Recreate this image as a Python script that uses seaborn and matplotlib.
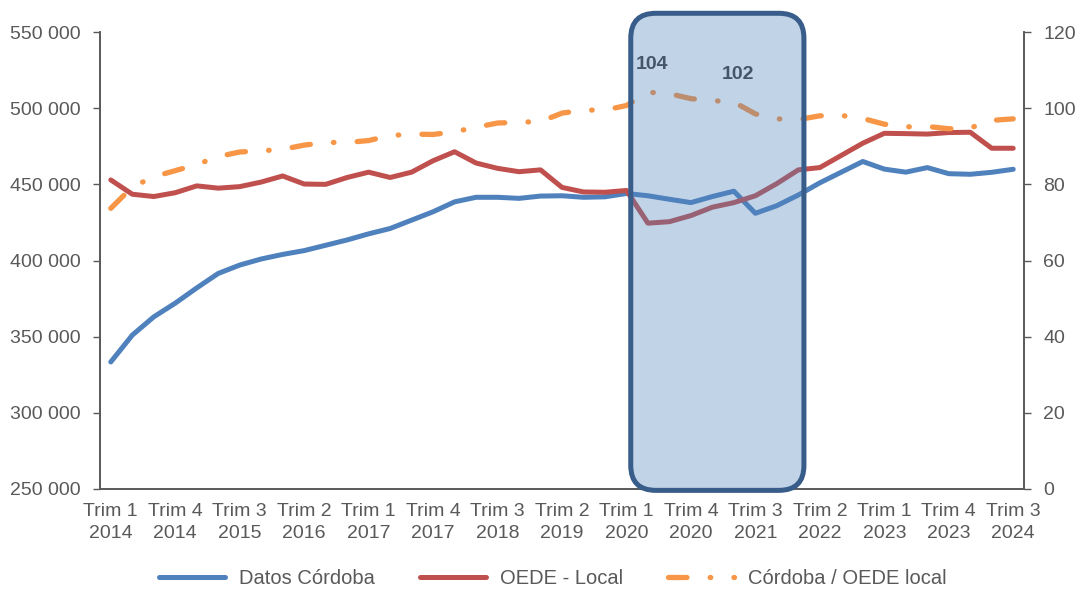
import pandas as pd
import matplotlib.pyplot as plt
import seaborn as sns
from matplotlib.patches import FancyBboxPatch
from matplotlib.ticker import FuncFormatter, FixedLocator

# Colors (Excel-like palette)
BLUE = "#4F81BD"
RED = "#C0504D"
ORANGE = "#F79646"
BOX_EDGE = "#385D8A"
TEXT_GRAY = "#595959"
LABEL_DARK = "#44546A"

sns.set_theme(style="white")
plt.rcParams["font.family"] = ["Liberation Sans", "DejaVu Sans"]

# ----------------------------------------------------------------------
# DATA
# ----------------------------------------------------------------------
quarters = ["Trim 1", "Trim 2", "Trim 3", "Trim 4"]
years = list(range(2014, 2025))
periods = [f"{q}\n{y}" for y in years for q in quarters][:43]  # Trim 1 2014 .. Trim 3 2024

datos_cordoba = [
    333400, 351000, 363000, 372000, 382000, 391500, 397000, 401000, 404000, 406500,
    410000, 413500, 417500, 421000, 426500, 432000, 438500, 441500, 441500, 440800,
    442300, 442500, 441500, 441800, 444000, 442500, 440200, 438000, 442000, 445500,
    431000, 436000, 443000, 451000, 458000, 465000, 460000, 458000, 461000, 457000,
    456600, 457900, 459900,
]
oede_local = [
    452900, 443500, 442000, 444500, 449000, 447500, 448500, 451500, 455500, 450200,
    450000, 454500, 458000, 454500, 458000, 465500, 471400, 464000, 460500, 458300,
    459500, 448000, 445000, 444800, 446000, 424500, 425500, 429500, 435000, 438000,
    442500, 450500, 459500, 461000, 469000, 477000, 483500, 483300, 483000, 484000,
    484200, 473700, 473700,
]
ratio = [
    73.7, 79.3, 82.0, 83.6, 85.2, 87.3, 88.5, 88.8, 89.2, 90.3,
    91.0, 91.0, 91.5, 92.8, 93.2, 93.1, 93.8, 95.0, 96.1, 96.3,
    96.5, 98.7, 99.5, 99.5, 100.7, 104.2, 103.8, 102.5, 102.0, 101.6,
    98.5, 97.2, 97.0, 98.0, 98.1, 97.3, 95.8, 95.1, 95.2, 94.6,
    94.8, 96.8, 97.2,
]

# highlighted points on the ratio series
highlight_idx = [25, 29]
highlight_text = ["104", "102"]

# highlighted period box (category index / left-axis units)
box_x = (24.2, 32.26)
box_y = (249100, 562300)

df = pd.DataFrame(
    {
        "idx": range(len(periods)),
        "periodo": periods,
        "cordoba": datos_cordoba,
        "oede": oede_local,
        "ratio": ratio,
    }
)

# ----------------------------------------------------------------------
# PLOT
# ----------------------------------------------------------------------
fig = plt.figure(figsize=(10.84, 5.93), dpi=100)
ax = fig.add_axes([0.0923, 0.1754, 0.8523, 0.7706])
ax2 = ax.twinx()

sns.lineplot(data=df, x="idx", y="cordoba", ax=ax, color=BLUE, linewidth=3.6,
             label="Datos Córdoba", solid_joinstyle="round", solid_capstyle="round")
sns.lineplot(data=df, x="idx", y="oede", ax=ax, color=RED, linewidth=3.6,
             label="OEDE - Local", solid_joinstyle="round", solid_capstyle="round")
sns.lineplot(data=df, x="idx", y="ratio", ax=ax2, color=ORANGE, linewidth=3.8,
             label="Córdoba / OEDE local")
ratio_line = ax2.lines[-1]
ratio_line.set_dashes((3.5, 4.4, 0.1, 4.4))
ratio_line.set_dash_capstyle("round")

for i, txt in zip(highlight_idx, highlight_text):
    ax2.annotate(txt, xy=(df["idx"][i], df["ratio"][i]), xytext=(3, 14),
                 textcoords="offset points", ha="center", va="bottom",
                 fontsize=14, fontweight="bold", color=LABEL_DARK, zorder=20)

# axes limits
ax.set_xlim(-0.5, len(periods) - 0.5)
ax.set_ylim(250000, 550000)
ax2.set_ylim(0, 120)
ax.set_yticks(range(250000, 550001, 50000))
ax2.set_yticks(range(0, 121, 20))
ax.yaxis.set_major_formatter(FuncFormatter(lambda v, p: f"{int(v):,}".replace(",", " ")))

# x ticks: labels every 3rd quarter, tick marks on category boundaries
ax.set_xticks(df["idx"][::3])
ax.set_xticklabels(df["periodo"][::3], linespacing=1.4)
ax.xaxis.set_minor_locator(FixedLocator([k - 0.5 for k in range(len(periods) + 1)]))
ax.tick_params(axis="x", which="major", length=0, pad=10, labelsize=14, labelcolor=TEXT_GRAY)
ax.tick_params(axis="x", which="minor", length=5, width=1, color=TEXT_GRAY, direction="out")
ax.tick_params(axis="y", length=5, width=1, color=TEXT_GRAY, pad=9, labelsize=14,
               labelcolor=TEXT_GRAY, left=True)
ax2.tick_params(axis="y", length=5, width=1, color=TEXT_GRAY, pad=9, labelsize=14,
                labelcolor=TEXT_GRAY, right=True)

ax.set_xlabel("")
ax.set_ylabel("")
ax2.set_ylabel("")

for a in (ax, ax2):
    a.spines["top"].set_visible(False)
    for s in ("left", "right", "bottom"):
        a.spines[s].set_color(TEXT_GRAY)
        a.spines[s].set_linewidth(1.2)
    a.grid(False)

# highlighted period box, drawn above the lines
fig.canvas.draw()
pos = ax.get_position()
w_px = pos.width * fig.get_figwidth() * fig.dpi
h_px = pos.height * fig.get_figheight() * fig.dpi
x_per_px = (ax.get_xlim()[1] - ax.get_xlim()[0]) / w_px
y_per_px = (ax.get_ylim()[1] - ax.get_ylim()[0]) / h_px
aspect = y_per_px / x_per_px
box = FancyBboxPatch(
    (box_x[0], box_y[0]), box_x[1] - box_x[0], box_y[1] - box_y[0],
    boxstyle=f"round,pad=0,rounding_size={25 * x_per_px}",
    mutation_aspect=aspect,
    transform=ax.transData,
    facecolor=(0.31, 0.506, 0.741, 0.35),
    edgecolor=BOX_EDGE, linewidth=3.6, clip_on=False, zorder=10,
)
ax2.add_patch(box)

# legend at the bottom
h1, l1 = ax.get_legend_handles_labels()
h2, l2 = ax2.get_legend_handles_labels()
for a in (ax, ax2):
    if a.get_legend() is not None:
        a.get_legend().remove()
fig.legend(h1 + h2, l1 + l2, loc="lower center", bbox_to_anchor=(0.51, -0.022), ncol=3,
           frameon=False, fontsize=14.5, handlelength=3.3, handletextpad=0.7,
           columnspacing=2.2, labelcolor=TEXT_GRAY)

plt.savefig("out.png", dpi=100)
plt.close()
